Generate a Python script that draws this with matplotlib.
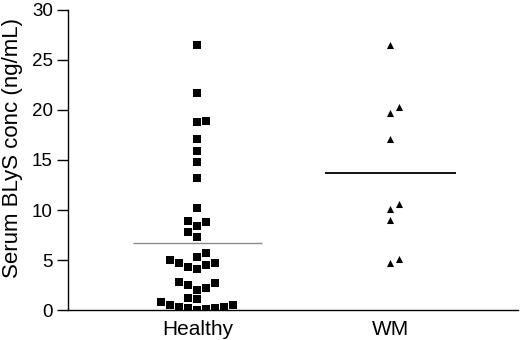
import matplotlib
matplotlib.use('Agg')
import matplotlib.pyplot as plt
import numpy as np

plt.rcParams['font.family'] = ['Liberation Sans', 'DejaVu Sans']

# Datos
groups = ['Healthy', 'WM']
healthy = [26.5, 21.7, 18.8, 18.9, 17.1, 15.9, 14.8, 13.2, 10.2,
           8.9, 8.8, 8.4, 7.8, 7.3,
           5.7, 5.3, 5.0, 4.7, 4.3, 4.1, 4.5, 4.7,
           2.8, 2.5, 2.0, 2.2, 2.7,
           1.2, 1.1,
           0.8, 0.5, 0.3, 0.2, 0.0, 0.1, 0.2, 0.3, 0.5]
healthy_col = [0, 0, 0, 1, 0, 0, 0, 0, 0,
               -1, 1, 0, -1, 0,
               1, 0, -3, -2, -1, 0, 1, 2,
               -2, -1, 0, 1, 2,
               -1, 0,
               -4, -3, -2, -1, 0, 1, 2, 3, 4]
wm = [26.5, 20.3, 19.7, 17.1, 10.6, 10.1, 9.0, 5.1, 4.7]
wm_col = [0, 1, 0, 0, 1, 0, 0, 1, 0]
mean_lines = [6.7, 13.7]

fig = plt.figure(figsize=(5.2, 3.4), dpi=100)
ax = fig.add_axes([0.131, 0.088, 0.865, 0.883])

step = 0.0466
ax.scatter(1 + np.array(healthy_col) * step, healthy, marker='s', s=30,
           color='black', linewidths=0, zorder=3)
ax.scatter(2 - 0.005 + np.array(wm_col) * step, wm, marker='^', s=26,
           color='black', linewidths=0, zorder=3)

ax.hlines(mean_lines[0], 1 - 0.335, 1 + 0.335, color='#8a8a8a', linewidth=1.0)
ax.hlines(mean_lines[1], 2 - 0.34, 2 + 0.34, color='black', linewidth=1.3)

ax.set_xlim(0.33, 2.66)
ax.set_ylim(0, 30)
ax.set_xticks([1, 2])
ax.set_xticklabels(groups, fontsize=15)
ax.tick_params(axis='x', length=0, pad=7)
ax.set_yticks(range(0, 31, 5))
ax.tick_params(axis='y', labelsize=13.5, length=8, width=1, direction='out', pad=3)
ax.set_ylabel('Serum BLyS conc (ng/mL)', fontsize=16)
ax.yaxis.set_label_coords(-0.1, 0.54)

for s in ['top', 'right']:
    ax.spines[s].set_visible(False)
ax.spines['left'].set_linewidth(1)
ax.spines['bottom'].set_linewidth(1)

fig.savefig('out.png', dpi=100)
